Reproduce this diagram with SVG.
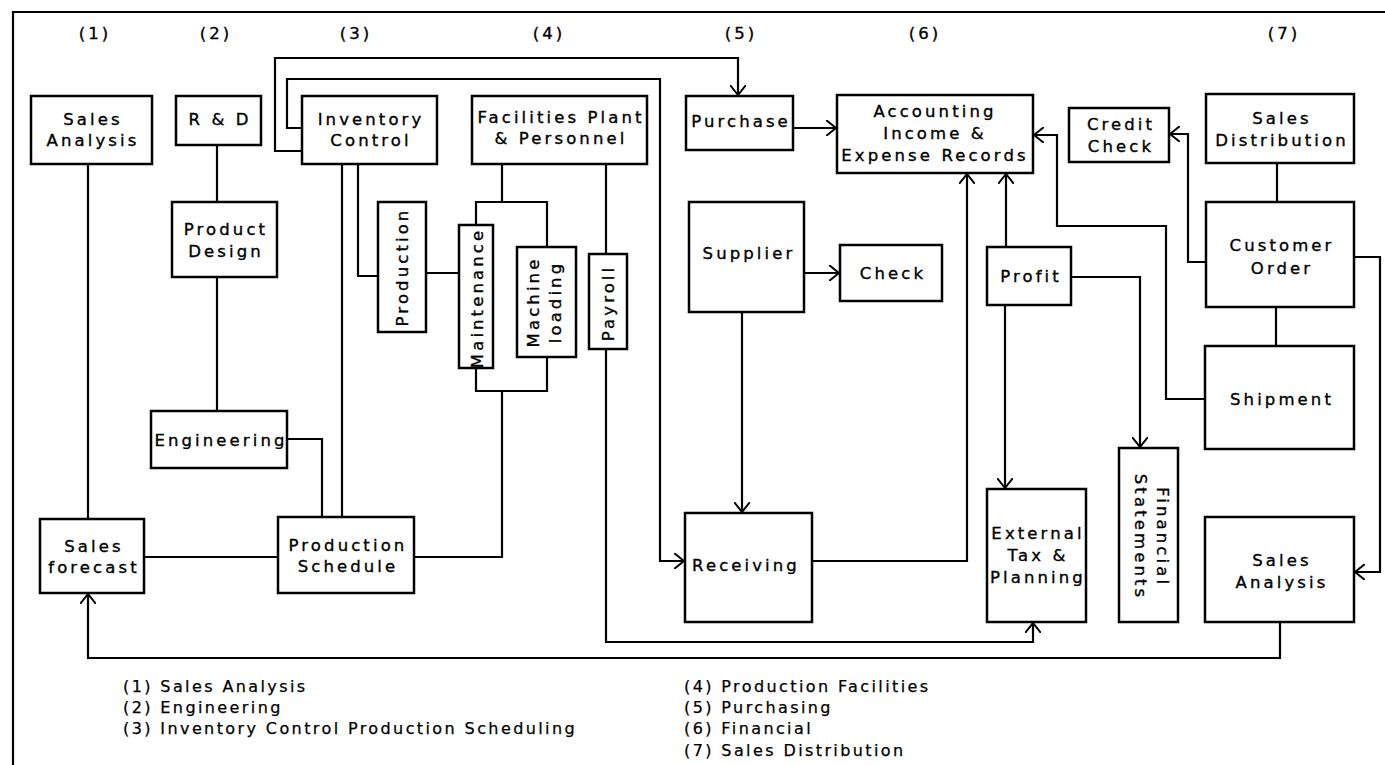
<svg xmlns="http://www.w3.org/2000/svg" width="1385" height="765" viewBox="0 0 1385 765">
<style>
.b{fill:#fff;stroke:#000;stroke-width:2.5}
.c{fill:none;stroke:#000;stroke-width:2.2}
.a{marker-end:url(#arr)}
.t{font-family:"DejaVu Sans",Verdana,sans-serif;font-size:16.5px;letter-spacing:3.1px;text-anchor:middle;fill:#000;stroke:#000;stroke-width:0.35px}
.lg{font-family:"DejaVu Sans",Verdana,sans-serif;font-size:16px;letter-spacing:2.4px;fill:#000;stroke:#000;stroke-width:0.25px}
</style>
<defs>
<marker id="arr" viewBox="0 0 10 16" refX="10" refY="8" markerWidth="10" markerHeight="16" markerUnits="userSpaceOnUse" orient="auto">
<path d="M0,0 L10,8 L0,16" fill="none" stroke="#000" stroke-width="2"/>
</marker>
</defs>
<rect width="1385" height="765" fill="#fff"/>
<g id="frame">
<path class="c" d="M13,765 V12 H1385"/>
</g>
<g id="headers">
<text class="t" x="95" y="39">(1)</text>
<text class="t" x="216" y="39">(2)</text>
<text class="t" x="356" y="39">(3)</text>
<text class="t" x="549" y="39">(4)</text>
<text class="t" x="741" y="39">(5)</text>
<text class="t" x="925" y="39">(6)</text>
<text class="t" x="1284" y="39">(7)</text>
</g>
<g id="connectors">
<path class="c" d="M88,164 V519"/>
<path class="c" d="M217,145 V202"/>
<path class="c" d="M217,277 V411"/>
<path class="c" d="M287,439 H322 V517"/>
<path class="c" d="M342,164 V517"/>
<path class="c" d="M358,164 V276 H378"/>
<path class="c" d="M426,273 H459"/>
<path class="c" d="M502,164 V202 M476,225 V202 H547 V247"/>
<path class="c" d="M476,368 V391 H547 V357 M502,391 V557 H414"/>
<path class="c" d="M144,557 H278"/>
<path class="c" d="M606,164 V254"/>
<path class="c a" d="M606,349 V642 H1033 V623"/>
<path class="c a" d="M302,151 H275 V58 H738 V95"/>
<path class="c a" d="M302,128 H287 V79 H660 V561 H684"/>
<path class="c a" d="M793,128 H836"/>
<path class="c a" d="M804,273 H839"/>
<path class="c a" d="M742,312 V512"/>
<path class="c a" d="M812,561 H967 V174"/>
<path class="c a" d="M1006,247 V174"/>
<path class="c a" d="M1071,277 H1140 V447"/>
<path class="c a" d="M1005,305 V488"/>
<path class="c a" d="M1205,399 H1166 V226 H1057 V135 H1034"/>
<path class="c a" d="M1206,262 H1188 V134 H1170"/>
<path class="c" d="M1277,163 V202"/>
<path class="c" d="M1276,307 V346"/>
<path class="c a" d="M1354,257 H1380 V572 H1355"/>
<path class="c a" d="M1280,622 V658 H88 V594"/>
</g>
<g id="sales-analysis-1">
<rect class="b" x="31" y="96" width="121" height="68"/>
<text class="t" x="93" y="125">Sales</text>
<text class="t" x="93" y="146">Analysis</text>
</g>
<g id="r-and-d">
<rect class="b" x="176" y="96" width="85" height="49"/>
<text class="t" x="220" y="125">R &amp; D</text>
</g>
<g id="inventory-control">
<rect class="b" x="302" y="96" width="135" height="68"/>
<text class="t" x="371" y="125">Inventory</text>
<text class="t" x="371" y="146">Control</text>
</g>
<g id="facilities">
<rect class="b" x="472" y="96" width="175" height="68"/>
<text class="t" x="561" y="123">Facilities Plant</text>
<text class="t" x="561" y="144">&amp; Personnel</text>
</g>
<g id="purchase">
<rect class="b" x="686" y="96" width="107" height="54"/>
<text class="t" x="741" y="127">Purchase</text>
</g>
<g id="accounting">
<rect class="b" x="837" y="95" width="196" height="78"/>
<text class="t" x="935" y="117">Accounting</text>
<text class="t" x="935" y="139">Income &amp;</text>
<text class="t" x="935" y="161">Expense Records</text>
</g>
<g id="credit-check">
<rect class="b" x="1069" y="108" width="100" height="54"/>
<text class="t" x="1121" y="130">Credit</text>
<text class="t" x="1121" y="152">Check</text>
</g>
<g id="sales-distribution">
<rect class="b" x="1206" y="94" width="148" height="69"/>
<text class="t" x="1282" y="124">Sales</text>
<text class="t" x="1282" y="146">Distribution</text>
</g>
<g id="product-design">
<rect class="b" x="172" y="202" width="105" height="75"/>
<text class="t" x="226" y="235">Product</text>
<text class="t" x="226" y="257">Design</text>
</g>
<g id="production">
<rect class="b" x="378" y="202" width="48" height="130"/>
<text class="t" transform="translate(402,267) rotate(-90)" x="0" y="6">Production</text>
</g>
<g id="maintenance">
<rect class="b" x="459" y="225" width="34" height="143"/>
<text class="t" transform="translate(477,298) rotate(-90)" x="0" y="6">Maintenance</text>
</g>
<g id="machine-loading">
<rect class="b" x="517" y="247" width="59" height="110"/>
<text class="t" transform="translate(533,302) rotate(-90)" x="0" y="6">Machine</text>
<text class="t" transform="translate(555,302) rotate(-90)" x="0" y="6">loading</text>
</g>
<g id="payroll">
<rect class="b" x="589" y="254" width="38" height="95"/>
<text class="t" transform="translate(608,303) rotate(-90)" x="0" y="6">Payroll</text>
</g>
<g id="supplier">
<rect class="b" x="689" y="202" width="115" height="110"/>
<text class="t" x="749" y="259">Supplier</text>
</g>
<g id="check">
<rect class="b" x="840" y="245" width="102" height="56"/>
<text class="t" x="893" y="279">Check</text>
</g>
<g id="profit">
<rect class="b" x="987" y="247" width="84" height="58"/>
<text class="t" x="1031" y="282">Profit</text>
</g>
<g id="customer-order">
<rect class="b" x="1206" y="202" width="148" height="105"/>
<text class="t" x="1282" y="251">Customer</text>
<text class="t" x="1282" y="274">Order</text>
</g>
<g id="shipment">
<rect class="b" x="1205" y="346" width="149" height="103"/>
<text class="t" x="1282" y="405">Shipment</text>
</g>
<g id="engineering">
<rect class="b" x="151" y="411" width="136" height="57"/>
<text class="t" x="221" y="446">Engineering</text>
</g>
<g id="sales-forecast">
<rect class="b" x="40" y="519" width="104" height="74"/>
<text class="t" x="94" y="552">Sales</text>
<text class="t" x="94" y="573">forecast</text>
</g>
<g id="production-schedule">
<rect class="b" x="278" y="517" width="136" height="76"/>
<text class="t" x="348" y="551">Production</text>
<text class="t" x="348" y="572">Schedule</text>
</g>
<g id="receiving">
<rect class="b" x="685" y="513" width="127" height="109"/>
<text class="t" x="746" y="571">Receiving</text>
</g>
<g id="external-tax">
<rect class="b" x="987" y="489" width="99" height="133"/>
<text class="t" x="1038" y="539">External</text>
<text class="t" x="1038" y="561">Tax &amp;</text>
<text class="t" x="1038" y="583">Planning</text>
</g>
<g id="financial-statements">
<rect class="b" x="1119" y="448" width="59" height="174"/>
<text class="t" transform="translate(1163,537) rotate(90)" x="0" y="6">Financial</text>
<text class="t" transform="translate(1141,537) rotate(90)" x="0" y="6">Statements</text>
</g>
<g id="sales-analysis-7">
<rect class="b" x="1205" y="517" width="149" height="105"/>
<text class="t" x="1282" y="566">Sales</text>
<text class="t" x="1282" y="588">Analysis</text>
</g>
<g id="legend">
<text class="lg" x="123" y="692">(1) Sales Analysis</text>
<text class="lg" x="123" y="713">(2) Engineering</text>
<text class="lg" x="123" y="734">(3) Inventory Control Production Scheduling</text>
<text class="lg" x="684" y="692">(4) Production Facilities</text>
<text class="lg" x="684" y="713">(5) Purchasing</text>
<text class="lg" x="684" y="734">(6) Financial</text>
<text class="lg" x="684" y="756">(7) Sales Distribution</text>
</g>
</svg>
